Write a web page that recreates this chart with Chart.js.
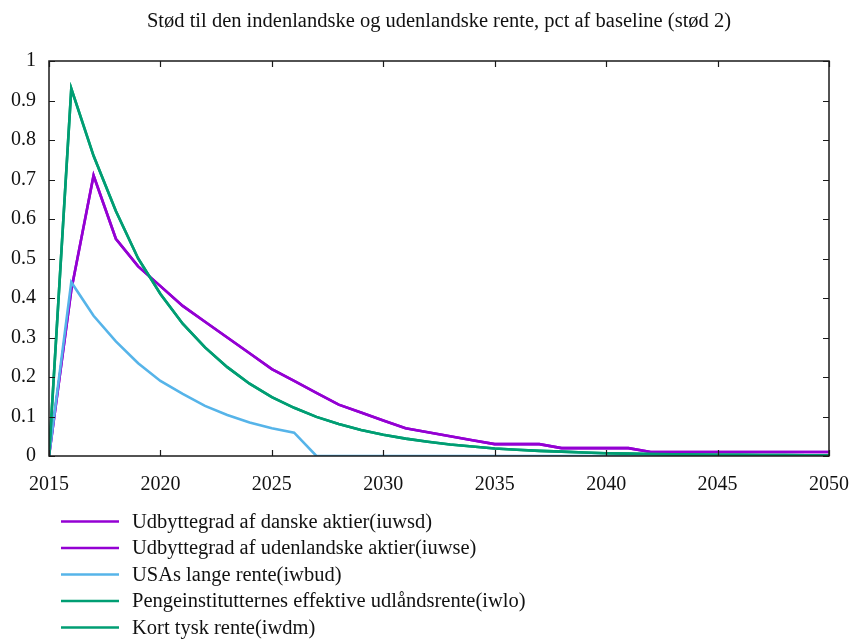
<!DOCTYPE html>
<html>
<head>
<meta charset="utf-8">
<script src="https://cdn.jsdelivr.net/npm/chart.js@4/dist/chart.umd.min.js"></script>
<style>
  html, body { margin: 0; padding: 0; background: #fff; }
  #wrap { width: 854px; height: 639px; }
</style>
</head>
<body>
<div id="wrap"><canvas id="c" width="854" height="639"></canvas></div>
<script>
// Years 2015–2050
const years = [];
for (let y = 2015; y <= 2050; y++) years.push(y);

const titleText = 'Stød til den indenlandske og udenlandske rente, pct af baseline (stød 2)';

// Dividend ratio, Danish shares (iuwsd)
const iuwsd = [0, 0.42, 0.71, 0.55, 0.48, 0.43, 0.38, 0.34, 0.30, 0.26, 0.22, 0.19, 0.16, 0.13, 0.11, 0.09,
  0.07, 0.06, 0.05, 0.04, 0.03, 0.03, 0.03, 0.02, 0.02, 0.02, 0.02, 0.01, 0.01, 0.01, 0.01, 0.01, 0.01, 0.01, 0.01, 0.01];
// Dividend ratio, foreign shares (iuwse)
const iuwse = [0, 0.42, 0.71, 0.55, 0.48, 0.43, 0.38, 0.34, 0.30, 0.26, 0.22, 0.19, 0.16, 0.13, 0.11, 0.09,
  0.07, 0.06, 0.05, 0.04, 0.03, 0.03, 0.03, 0.02, 0.02, 0.02, 0.02, 0.01, 0.01, 0.01, 0.01, 0.01, 0.01, 0.01, 0.01, 0.01];
// US long rate (iwbud)
const iwbud = [0, 0.44, 0.355, 0.29, 0.235, 0.19, 0.157, 0.127, 0.104, 0.085, 0.07, 0.059, 0, 0, 0, 0,
  0, 0, 0, 0, 0, 0, 0, 0, 0, 0, 0, 0, 0, 0, 0, 0, 0, 0, 0, 0];
// Banks' effective lending rate (iwlo)
const iwlo = [0, 0.93, 0.76, 0.62, 0.50, 0.41, 0.335, 0.275, 0.225, 0.183, 0.149, 0.122, 0.099, 0.081, 0.066, 0.054,
  0.044, 0.036, 0.029, 0.024, 0.019, 0.016, 0.013, 0.011, 0.009, 0.007, 0.006, 0.005, 0.004, 0.0035, 0.003, 0.0028, 0.0025, 0.0023, 0.002, 0.002];
// Short German rate (iwdm)
const iwdm = [0, 0.93, 0.76, 0.62, 0.50, 0.41, 0.335, 0.275, 0.225, 0.183, 0.149, 0.122, 0.099, 0.081, 0.066, 0.054,
  0.044, 0.036, 0.029, 0.024, 0.019, 0.016, 0.013, 0.011, 0.009, 0.007, 0.006, 0.005, 0.004, 0.0035, 0.003, 0.0028, 0.0025, 0.0023, 0.002, 0.002];

const seriesLabels = [
  'Udbyttegrad af danske aktier(iuwsd)',
  'Udbyttegrad af udenlandske aktier(iuwse)',
  'USAs lange rente(iwbud)',
  'Pengeinstitutternes effektive udlåndsrente(iwlo)',
  'Kort tysk rente(iwdm)'
];
const seriesValues = [iuwsd, iuwse, iwbud, iwlo, iwdm];
const seriesColors = ['#9400d3', '#9400d3', '#56b4e9', '#009e73', '#009e73'];

const FONT = '"Liberation Serif", "Times New Roman", serif';

const datasets = seriesValues.map((vals, i) => ({
  label: seriesLabels[i],
  data: vals.map((v, k) => ({ x: years[k], y: v })),
  borderColor: seriesColors[i],
  backgroundColor: seriesColors[i],
  borderWidth: 2.6,
  pointRadius: 0,
  tension: 0,
  fill: false,
  order: seriesValues.length - i
}));

// Frame with inward ticks on all four sides, title and a stacked legend below the axis
const decor = {
  id: 'decor',
  afterDraw(chart) {
    const ctx = chart.ctx;
    const a = chart.chartArea;
    const xs = chart.scales.x, ys = chart.scales.y;
    ctx.save();
    ctx.strokeStyle = '#1a1a1a';
    ctx.lineWidth = 1.5;
    ctx.strokeRect(a.left, a.top, a.right - a.left, a.bottom - a.top);
    ctx.lineWidth = 1.2;
    const tl = 6;
    ctx.beginPath();
    xs.ticks.forEach(t => {
      const px = Math.round(xs.getPixelForValue(t.value)) + 0.5;
      ctx.moveTo(px, a.bottom); ctx.lineTo(px, a.bottom - tl);
      ctx.moveTo(px, a.top); ctx.lineTo(px, a.top + tl);
    });
    ys.ticks.forEach(t => {
      const py = Math.round(ys.getPixelForValue(t.value)) + 0.5;
      ctx.moveTo(a.left, py); ctx.lineTo(a.left + tl, py);
      ctx.moveTo(a.right, py); ctx.lineTo(a.right - tl, py);
    });
    ctx.stroke();

    // title
    ctx.fillStyle = '#111';
    ctx.font = '20.5px ' + FONT;
    ctx.textAlign = 'center';
    ctx.textBaseline = 'middle';
    ctx.fillText(titleText, (a.left + a.right) / 2, 22);

    // legend
    ctx.font = '20.5px ' + FONT;
    ctx.textAlign = 'left';
    chart.data.datasets.forEach((ds, i) => {
      const y = 521.5 + i * 26.5;
      ctx.strokeStyle = ds.borderColor;
      ctx.lineWidth = 2.6;
      ctx.beginPath();
      ctx.moveTo(61, y); ctx.lineTo(119, y);
      ctx.stroke();
      ctx.fillStyle = '#111';
      ctx.fillText(ds.label, 132, y + 1);
    });
    ctx.restore();
  }
};

new Chart(document.getElementById('c'), {
  type: 'line',
  data: { datasets },
  options: {
    responsive: false,
    animation: false,
    layout: { padding: { left: 0, top: 61, right: 25, bottom: 0 } },
    plugins: { legend: { display: false }, tooltip: { enabled: false }, title: { display: false } },
    scales: {
      x: {
        type: 'linear',
        min: 2015, max: 2050,
        grid: { display: false, drawTicks: false },
        border: { display: false },
        ticks: { stepSize: 5, padding: 17, color: '#111', font: { family: FONT, size: 20 },
          callback: v => String(v), maxRotation: 0, autoSkip: false },
        afterFit: s => { s.height = 183; s.paddingLeft = 0; s.paddingRight = 0; }
      },
      y: {
        min: 0, max: 1,
        grid: { display: false, drawTicks: false },
        border: { display: false },
        ticks: { stepSize: 0.1, padding: 13, color: '#111', font: { family: FONT, size: 20 },
          callback: v => String(Number(v.toFixed(1))) },
        afterFit: s => { s.width = 49; s.paddingTop = 0; s.paddingBottom = 0; }
      }
    }
  },
  plugins: [decor]
});
</script>
</body>
</html>
